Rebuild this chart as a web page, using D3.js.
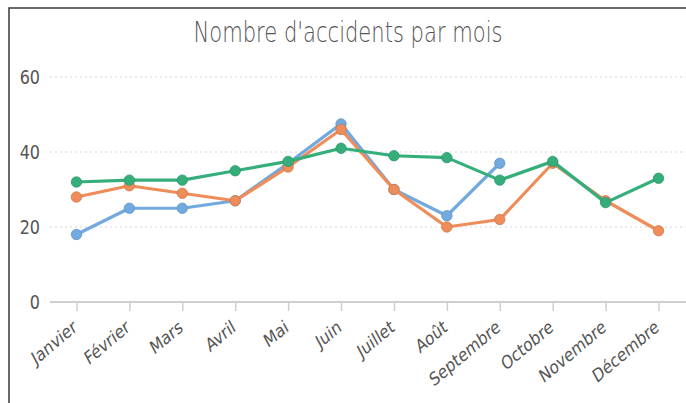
<!DOCTYPE html>
<html>
<head>
<meta charset="utf-8">
<script src="https://cdn.jsdelivr.net/npm/d3@7"></script>
<style>
  body { margin: 0; background: #fff; }
  svg { display: block; font-family: "DejaVu Sans", sans-serif; }
</style>
</head>
<body>
<svg id="chart" width="686" height="403"></svg>
<script>
// months and the three series
var months = ["Janvier", "Février", "Mars", "Avril", "Mai", "Juin", "Juillet",
              "Août", "Septembre", "Octobre", "Novembre", "Décembre"];
var serieBleue  = [18, 25, 25, 27, 37, 47.5, 30, 23, 37, null, null, null];
var serieOrange = [28, 31, 29, 27, 36, 46, 30, 20, 22, 37, 27, 19];
var serieVerte  = [32, 32.5, 32.5, 35, 37.5, 41, 39, 38.5, 32.5, 37.5, 26.5, 33];
var yTicks = [0, 20, 40, 60];

var series = [
  { name: "bleue", values: serieBleue, color: "#72a9df" },
  { name: "orange", values: serieOrange, color: "#ee8c5a" },
  { name: "verte", values: serieVerte, color: "#35ae7b" }
];

var svg = d3.select("#chart");

var x = d3.scalePoint()
          .domain(months)
          .range([50, 685])
          .padding(0.5);

var y = d3.scaleLinear()
          .domain([0, 60])
          .range([302, 77]);

// frame (top + left edge)
svg.append("path")
   .attr("d", "M9,403 L9,8 L686,8")
   .attr("fill", "none")
   .attr("stroke", "#3a3a3a")
   .attr("stroke-width", 1.5);

// title
svg.append("text")
   .attr("x", 348)
   .attr("y", 42)
   .attr("text-anchor", "middle")
   .attr("font-size", 28)
   .attr("font-weight", 300)
   .attr("fill", "#555")
   .attr("textLength", 309)
   .attr("lengthAdjust", "spacingAndGlyphs")
   .text("Nombre d'accidents par mois");

// dotted gridlines
svg.append("g")
   .selectAll("line")
   .data(yTicks.filter(function(d) { return d > 0; }))
   .enter().append("line")
   .attr("x1", 50)
   .attr("x2", 686)
   .attr("y1", function(d) { return y(d); })
   .attr("y2", function(d) { return y(d); })
   .attr("stroke", "#d6d6d6")
   .attr("stroke-width", 1.2)
   .attr("stroke-dasharray", "2,3");

// y labels
svg.append("g")
   .selectAll("text")
   .data(yTicks)
   .enter().append("text")
   .attr("transform", function(d) { return "translate(40," + y(d) + ") scale(0.8,1)"; })
   .attr("dy", "0.36em")
   .attr("text-anchor", "end")
   .attr("font-size", 20)
   .attr("fill", "#555")
   .text(function(d) { return d; });

// x axis
var xAxis = svg.append("g")
               .attr("transform", "translate(0,302)")
               .call(d3.axisBottom(x).tickSizeInner(9).tickSizeOuter(0));

xAxis.select(".domain")
     .attr("d", "M50,0H686")
     .attr("stroke", "#cfcfcf")
     .attr("stroke-width", 2);

xAxis.selectAll(".tick line")
     .attr("stroke", "#cfcfcf")
     .attr("stroke-width", 1.5);

// labels squeezed like the rest of the picture
xAxis.selectAll(".tick text")
     .attr("font-family", "DejaVu Sans, sans-serif")
     .attr("font-size", 18.5)
     .attr("fill", "#555")
     .attr("text-anchor", "end")
     .attr("x", 0)
     .attr("y", 0)
     .attr("dy", 0)
     .attr("transform", "translate(1,28) scale(0.8,1) rotate(-34)");

// lines + markers
var line = d3.line()
             .defined(function(d) { return d != null; })
             .x(function(d, i) { return x(months[i]); })
             .y(function(d) { return y(d); });

series.forEach(function(s) {
  var g = svg.append("g").attr("class", "serie-" + s.name);

  g.append("path")
   .datum(s.values)
   .attr("d", line)
   .attr("fill", "none")
   .attr("stroke", s.color)
   .attr("stroke-width", 3.2)
   .attr("stroke-linejoin", "round");

  g.selectAll("circle")
   .data(s.values.map(function(v, i) { return { v: v, m: months[i] }; })
                 .filter(function(d) { return d.v != null; }))
   .enter().append("circle")
   .attr("cx", function(d) { return x(d.m); })
   .attr("cy", function(d) { return y(d.v); })
   .attr("r", 5.2)
   .attr("fill", s.color)
   .attr("stroke", d3.color(s.color).darker(0.4))
   .attr("stroke-width", 0.8);
});
</script>
</body>
</html>
